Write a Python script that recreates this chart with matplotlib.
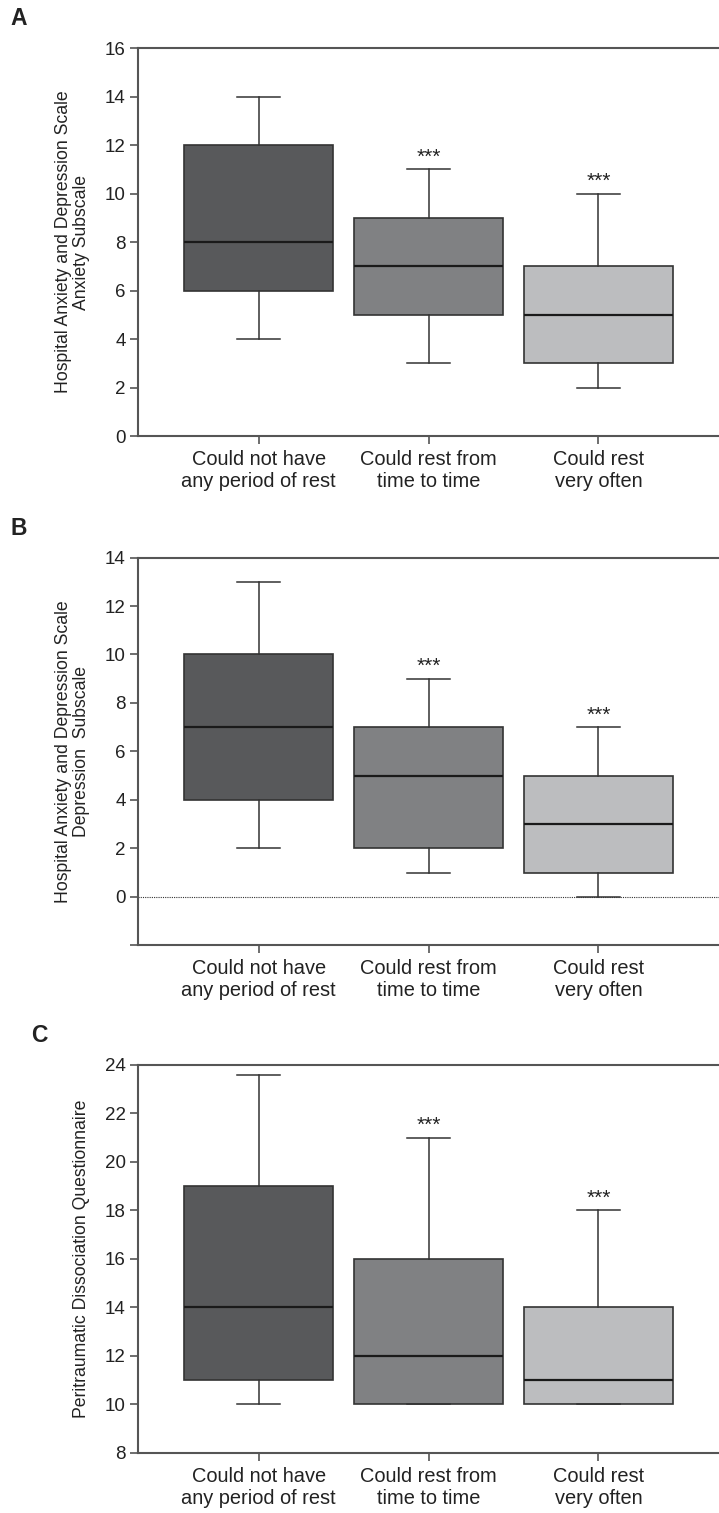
import matplotlib
matplotlib.use("Agg")
import matplotlib.pyplot as plt

plt.rcParams['font.family'] = ['Liberation Sans', 'DejaVu Sans']

# ==========================================================
# data
# ==========================================================
groups = ["Could not have\nany period of rest",
          "Could rest from\ntime to time",
          "Could rest\nvery often"]
fills = ["#58595b", "#808183", "#bcbdbf"]

# each row: whislo, q1, med, q3, whishi
hads_anx = [[4, 6, 8, 12, 14],
            [3, 5, 7, 9, 11],
            [2, 3, 5, 7, 10]]
hads_dep = [[2, 4, 7, 10, 13],
            [1, 2, 5, 7, 9],
            [0, 1, 3, 5, 7]]
pdeq = [[10, 11, 14, 19, 23.6],
        [10, 10, 12, 16, 21],
        [10, 10, 11, 14, 18]]

signif = ["", "***", "***"]

panels = [
    dict(tag="A", stats=hads_anx, ylim=(0, 16), yticks=range(0, 17, 2),
         ylabel="Hospital Anxiety and Depression Scale\nAnxiety Subscale",
         bottom=0.7118, letter_x=0.014, zero_line=False),
    dict(tag="B", stats=hads_dep, ylim=(-2, 14), yticks=range(-2, 15, 2),
         ylabel="Hospital Anxiety and Depression Scale\nDepression  Subscale",
         bottom=0.3752, letter_x=0.014, zero_line=True),
    dict(tag="C", stats=pdeq, ylim=(8, 24), yticks=range(8, 25, 2),
         ylabel="Peritraumatic Dissociation Questionnaire",
         bottom=0.0399, letter_x=0.043, zero_line=False),
]

fig = plt.figure(figsize=(7.19, 15.13), dpi=100)
spine_col = "#555555"

for p in panels:
    ax = fig.add_axes([0.192, p["bottom"], 0.808, 0.2563])
    bstats = [dict(whislo=s[0], q1=s[1], med=s[2], q3=s[3], whishi=s[4], fliers=[])
              for s in p["stats"]]
    pos = [1, 2, 3]
    art = ax.bxp(bstats, positions=pos, widths=0.88, capwidths=0.25,
                 patch_artist=True, showfliers=False,
                 boxprops=dict(edgecolor="#333333", linewidth=1.2),
                 whiskerprops=dict(color="#333333", linewidth=1.1),
                 capprops=dict(color="#333333", linewidth=1.1),
                 medianprops=dict(color="#1a1a1a", linewidth=1.6))
    for box, c in zip(art["boxes"], fills):
        box.set_facecolor(c)

    for x, s, txt in zip(pos, p["stats"], signif):
        if txt:
            ax.annotate(txt, (x, s[4]), xytext=(0, 2), textcoords="offset points",
                        ha="center", va="bottom", fontsize=15, color="#222222")

    if p["zero_line"]:
        ax.axhline(0, color="#333333", lw=0.8, ls=(0, (1, 1)))

    ax.set_xlim(0.29, 3.71)
    ax.set_ylim(*p["ylim"])
    ax.set_yticks(list(p["yticks"]))
    ax.set_yticklabels(["" if v < 0 else str(v) for v in p["yticks"]])
    ax.set_xticks(pos)
    ax.set_xticklabels(groups, fontsize=14.4, color="#222222")
    ax.tick_params(axis="y", labelsize=13.5, labelcolor="#222222", length=6,
                   width=1.2, color=spine_col, pad=3)
    ax.tick_params(axis="x", length=6, width=1.2, color=spine_col, pad=4)
    ax.spines["right"].set_visible(False)
    for sp in ("left", "top", "bottom"):
        ax.spines[sp].set_color(spine_col)
        ax.spines[sp].set_linewidth(1.5)

    ax.set_ylabel(p["ylabel"], fontsize=12.7, color="#222222", linespacing=1.1)
    ax.yaxis.set_label_coords(-0.082, 0.5)

    top_frac = p["bottom"] + 0.2563
    fig.text(p["letter_x"], top_frac + 0.0195, p["tag"], fontsize=16.5,
             fontweight="bold", color="#222222", va="center")

fig.savefig("out.png", dpi=100)
